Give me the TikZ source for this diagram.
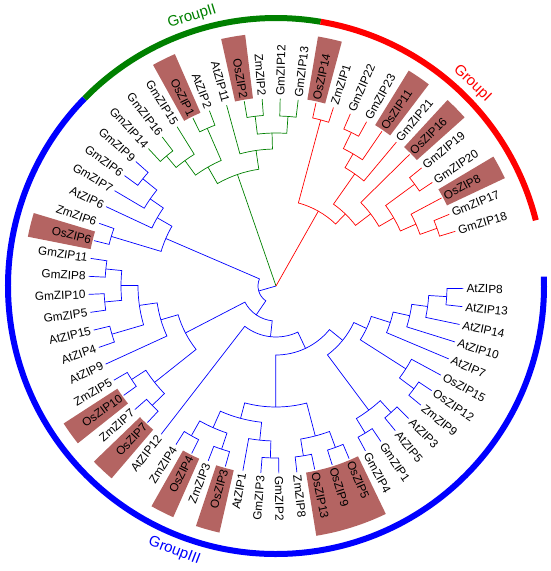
\documentclass[tikz,border=0pt]{standalone}
\usepackage{fontspec}
\setmainfont{Liberation Sans}
\usepackage{tikz}

\definecolor{grpblue}{RGB}{0,0,255}
\definecolor{grpred}{RGB}{255,0,0}
\definecolor{grpgreen}{RGB}{0,128,0}
\definecolor{oshl}{RGB}{180,100,98}

% clade: name, radius, child a, child b
\newcommand\clade[4]{%
  \pgfmathsetmacro\ixA{\csname ix@#3\endcsname}%
  \pgfmathsetmacro\ixB{\csname ix@#4\endcsname}%
  \pgfmathsetmacro\angA{-0.8-5.52*\ixA}%
  \pgfmathsetmacro\angB{-0.8-5.52*\ixB}%
  \pgfmathsetmacro\ixM{(\ixA+\ixB)/2}%
  \pgfmathsetmacro\angM{-0.8-5.52*\ixM}%
  \expandafter\xdef\csname ix@#1\endcsname{\ixM}%
  \coordinate (#1) at (\angM:#2pt);
  \draw[branch] (#3) -- (\angA:#2pt) arc[start angle=\angA, end angle=\angB, radius=#2pt] -- (#4);
}

\begin{document}
\begin{tikzpicture}[
  branch/.style={line width=0.7pt},
  leaf/.style={inner sep=1.5pt, font=\fontsize{11.8}{14}\selectfont},
  grouparc/.style={line width=6pt},
  grouplabel/.style={font=\fontsize{15}{18}\selectfont}
]
\useasboundingbox (-276pt,-285pt) rectangle (274pt,286pt);
\coordinate (root) at (0,0);

% highlighted rice genes
\foreach \a/\b in {51/51,55/55,57/57,60/60,44/44,47/47,35/35,26/26,24/24,21/21,19/19,12/14}{
  \pgfmathsetmacro\hA{-0.8-5.52*\a+2.76}
  \pgfmathsetmacro\hB{-0.8-5.52*\b-2.76}
  \fill[oshl] (\hA:189pt) arc[start angle=\hA, end angle=\hB, radius=189pt]
    -- (\hB:253pt) arc[start angle=\hB, end angle=\hA, radius=253pt] -- cycle;
}

% leaves
\foreach \g [count=\i from 0] in {AtZIP8,AtZIP13,AtZIP14,AtZIP10,AtZIP7,OsZIP15,OsZIP12,ZmZIP9,
  AtZIP3,AtZIP5,GmZIP1,GmZIP4,OsZIP5,OsZIP9,OsZIP13,ZmZIP8,GmZIP2,GmZIP3,AtZIP1,OsZIP3,
  ZmZIP3,OsZIP4,ZmZIP4,AtZIP12,OsZIP7,ZmZIP7,OsZIP10,ZmZIP5,AtZIP9,AtZIP4,AtZIP15,GmZIP5,
  GmZIP10,GmZIP8,GmZIP11,OsZIP6,ZmZIP6,AtZIP6,GmZIP7,GmZIP6,GmZIP9,
  GmZIP14,GmZIP16,GmZIP15,OsZIP1,AtZIP2,AtZIP11,OsZIP2,ZmZIP2,GmZIP12,GmZIP13,
  OsZIP14,ZmZIP1,GmZIP22,GmZIP23,OsZIP11,GmZIP21,OsZIP16,GmZIP19,GmZIP20,OsZIP8,GmZIP17,GmZIP18}{
  \pgfmathsetmacro\ang{-0.8-5.52*\i}
  \expandafter\xdef\csname ix@\g\endcsname{\i}
  \coordinate (\g) at (\ang:187.5pt);
  \pgfmathtruncatemacro\flip{and(\ang<-90,\ang>=-270)}
  \ifnum\flip=1
    \node[leaf, anchor=east, rotate=\ang+180] (\g-l) at (\ang:189pt) {\g};
  \else
    \node[leaf, anchor=west, rotate=\ang] (\g-l) at (\ang:189pt) {\g};
  \fi
}

% GroupIII
\begin{scope}[color=grpblue]
\clade{B1}{171}{GmZIP6}{GmZIP9}
\clade{B2}{153}{GmZIP7}{B1}
\clade{B3}{137}{AtZIP6}{B2}
\clade{B4}{172}{OsZIP6}{ZmZIP6}
\clade{B5}{120}{B4}{B3}
\clade{B10}{171}{AtZIP8}{AtZIP13}
\clade{B11}{153}{B10}{AtZIP14}
\clade{B12}{137}{B11}{AtZIP10}
\clade{B13}{120}{B12}{AtZIP7}
\clade{B14}{172}{OsZIP12}{ZmZIP9}
\clade{B15}{154}{OsZIP15}{B14}
\clade{B16}{100}{B13}{B15}
\clade{B17}{171}{AtZIP3}{AtZIP5}
\clade{B18}{172}{GmZIP1}{GmZIP4}
\clade{B19}{155}{B17}{B18}
\clade{B20}{86}{B16}{B19}
\clade{B22}{172}{OsZIP5}{OsZIP9}
\clade{B23}{172}{OsZIP13}{ZmZIP8}
\clade{B24}{155}{B22}{B23}
\clade{B25}{172}{GmZIP2}{GmZIP3}
\clade{B26}{155}{B25}{AtZIP1}
\clade{B27}{172}{OsZIP3}{ZmZIP3}
\clade{B28}{172}{OsZIP4}{ZmZIP4}
\clade{B29}{155}{B27}{B28}
\clade{B30}{137}{B26}{B29}
\clade{B31}{121}{B24}{B30}
\clade{B32}{69}{B20}{B31}
\clade{B33}{51}{B32}{AtZIP12}
\clade{B40}{171}{GmZIP8}{GmZIP11}
\clade{B41}{172}{GmZIP5}{GmZIP10}
\clade{B42}{155}{B41}{B40}
\clade{B43}{171}{AtZIP4}{AtZIP15}
\clade{B44}{138}{B43}{B42}
\clade{B45}{120}{AtZIP9}{B44}
\clade{B46}{172}{OsZIP10}{ZmZIP5}
\clade{B47}{172}{OsZIP7}{ZmZIP7}
\clade{B48}{155}{B47}{B46}
\clade{B7}{102}{B48}{B45}
\clade{B6}{35}{B33}{B7}
\clade{B0}{18}{B6}{B5}
\draw[branch] (root) -- (B0);
\end{scope}

% GroupII
\begin{scope}[color=grpgreen]
\clade{G1}{170}{GmZIP14}{GmZIP16}
\clade{G2}{155}{G1}{GmZIP15}
\clade{G3}{172}{OsZIP1}{AtZIP2}
\clade{G4}{137}{G2}{G3}
\clade{G5}{171}{OsZIP2}{ZmZIP2}
\clade{G6}{170}{GmZIP12}{GmZIP13}
\clade{G7}{153}{G5}{G6}
\clade{G8}{137}{AtZIP11}{G7}
\clade{G9}{118}{G4}{G8}
\draw[branch] (root) -- (G9);
\end{scope}

% GroupI
\begin{scope}[color=grpred]
\clade{R1}{172}{OsZIP14}{ZmZIP1}
\clade{R2}{171}{GmZIP22}{GmZIP23}
\clade{R3}{153}{R2}{OsZIP11}
\clade{R4}{137}{R3}{GmZIP21}
\clade{R5}{172}{GmZIP19}{GmZIP20}
\clade{R6}{171}{GmZIP17}{GmZIP18}
\clade{R7}{153}{OsZIP8}{R6}
\clade{R8}{136}{R5}{R7}
\clade{R9}{119}{OsZIP16}{R8}
\clade{R10}{100}{R4}{R9}
\clade{R11}{86}{R1}{R10}
\draw[branch] (root) -- (R11);
\end{scope}

% group arcs
\draw[grouparc, grpblue] (2.0:268pt) arc[start angle=2.0, end angle=-224.4, radius=268pt];
\draw[grouparc, grpgreen] (-224.4:268pt) arc[start angle=-224.4, end angle=-279.6, radius=268pt];
\draw[grouparc, grpred] (-279.6:268pt) arc[start angle=-279.6, end angle=-345.8, radius=268pt];

\node[grouplabel, text=grpred, rotate=-44.1] (grpI) at (45.9:282pt) {GroupI};
\node[grouplabel, text=grpgreen, rotate=17.3] (grpII) at (107.3:282pt) {GroupII};
\node[grouplabel, text=grpblue, rotate=-21] (grpIII) at (-111:284pt) {GroupIII};
\end{tikzpicture}
\end{document}
